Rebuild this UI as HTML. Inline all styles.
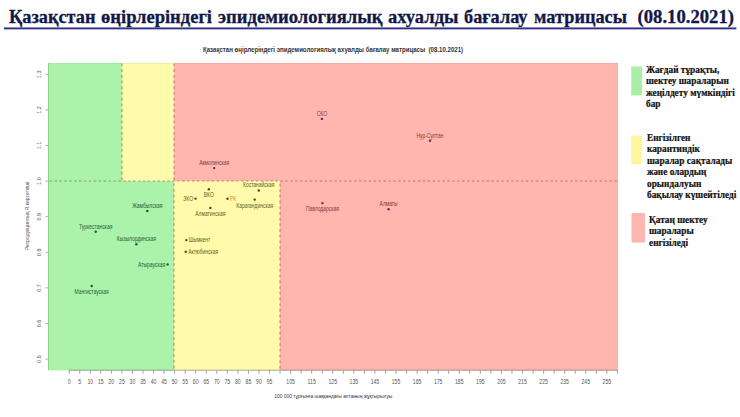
<!DOCTYPE html>
<html><head><meta charset="utf-8">
<style>
html,body{margin:0;padding:0;background:#fff;width:740px;height:417px;overflow:hidden}
svg{display:block}
.t{font-family:"Liberation Serif","DejaVu Serif",serif;font-weight:bold}
.s{font-family:"Liberation Sans","DejaVu Sans",sans-serif}
</style></head><body>
<svg width="740" height="417" viewBox="0 0 740 417">
<!-- main title -->
<g class="t" font-size="18.3" fill="#131848" stroke="#131848" stroke-width="0.3"><text x="9.00" y="22.6" textLength="86.51" lengthAdjust="spacingAndGlyphs">Қазақстан</text><text x="101.00" y="22.6" textLength="111.01" lengthAdjust="spacingAndGlyphs">өңірлеріндегі</text><text x="218.00" y="22.6" textLength="164.50" lengthAdjust="spacingAndGlyphs">эпидемиологиялық</text><text x="387.99" y="22.6" textLength="70.51" lengthAdjust="spacingAndGlyphs">ахуалды</text><text x="464.00" y="22.6" textLength="63.51" lengthAdjust="spacingAndGlyphs">бағалау</text><text x="534.00" y="22.6" textLength="93.01" lengthAdjust="spacingAndGlyphs">матрицасы</text><text x="637.49" y="22.6" textLength="96.52" lengthAdjust="spacingAndGlyphs">(08.10.2021)</text></g>
<rect x="4" y="27.45" width="732.4" height="1.9" fill="#2e2f82"/>

<!-- chart title -->
<text class="s" x="333" y="51.8" font-size="6.1" font-weight="bold" fill="#333" text-anchor="middle" xml:space="preserve" transform="matrix(1,0,0,1.25,0,-12.950)">Қазақстан өңірлеріндегі эпидемиологиялық ахуалды бағалау матрицасы  (08.10.2021)</text>

<!-- regions -->
<rect x="48" y="63" width="74" height="118" fill="#abf2ab"/>
<rect x="122" y="63" width="52" height="118" fill="#fffbab"/>
<rect x="174" y="63" width="444" height="118" fill="#ffb6ae"/>
<rect x="48" y="181" width="126" height="189.4" fill="#abf2ab"/>
<rect x="174" y="181" width="106" height="189.4" fill="#fffbab"/>
<rect x="280" y="181" width="338" height="189.4" fill="#ffb6ae"/>

<!-- dashed lines -->
<g stroke="#8f3a28" stroke-opacity="0.5" stroke-width="1.2" fill="none">
<line x1="48" y1="181" x2="618" y2="181" stroke-dasharray="2.456 2.455" stroke-dashoffset="3.36"/>
<line x1="122" y1="63" x2="122" y2="181" stroke-dasharray="2.85 2.85" stroke-dashoffset="5.2"/>
<line x1="174" y1="63" x2="174" y2="370" stroke-dasharray="2.85 2.85" stroke-dashoffset="5.2"/>
<line x1="280" y1="181" x2="280" y2="370" stroke-dasharray="2.85 2.85" stroke-dashoffset="3.25"/>
</g>

<!-- axes -->
<path d="M48 63.4H617.6V370" fill="none" stroke="#666" stroke-opacity="0.12" stroke-width="0.8"/>
<line x1="48.5" y1="63" x2="48.5" y2="370" stroke="#8fcf8f" stroke-width="1"/>
<g stroke="#999" stroke-width="0.8">
<line x1="45.5" y1="74.3" x2="48" y2="74.3"/>
<line x1="45.5" y1="109.9" x2="48" y2="109.9"/>
<line x1="45.5" y1="145.5" x2="48" y2="145.5"/>
<line x1="45.5" y1="181.1" x2="48" y2="181.1"/>
<line x1="45.5" y1="216.7" x2="48" y2="216.7"/>
<line x1="45.5" y1="252.3" x2="48" y2="252.3"/>
<line x1="45.5" y1="287.9" x2="48" y2="287.9"/>
<line x1="45.5" y1="323.5" x2="48" y2="323.5"/>
<line x1="45.5" y1="359.1" x2="48" y2="359.1"/>
</g>
<g class="s" font-size="5.5" fill="#555" text-anchor="middle">
<text transform="translate(40.6,74.3) rotate(-90)">1.3</text>
<text transform="translate(40.6,109.9) rotate(-90)">1.2</text>
<text transform="translate(40.6,145.5) rotate(-90)">1.1</text>
<text transform="translate(40.6,181.1) rotate(-90)">1.0</text>
<text transform="translate(40.6,216.7) rotate(-90)">0.9</text>
<text transform="translate(40.6,252.3) rotate(-90)">0.8</text>
<text transform="translate(40.6,287.9) rotate(-90)">0.7</text>
<text transform="translate(40.6,323.5) rotate(-90)">0.6</text>
<text transform="translate(40.6,359.1) rotate(-90)">0.5</text>
<text transform="translate(29.4,216) rotate(-90)" font-size="5">Репродукциялық R көрсеткіші</text>
</g>
<!--GEN-->
<line x1="69.2" y1="370.2" x2="617.4" y2="370.2" stroke="#555" stroke-opacity="0.5" stroke-width="1"/>
<g stroke="#888" stroke-width="0.75"><line x1="69.20" y1="370.2" x2="69.20" y2="373.8"/><line x1="79.74" y1="370.2" x2="79.74" y2="373.8"/><line x1="90.28" y1="370.2" x2="90.28" y2="373.8"/><line x1="100.83" y1="370.2" x2="100.83" y2="373.8"/><line x1="111.37" y1="370.2" x2="111.37" y2="373.8"/><line x1="121.91" y1="370.2" x2="121.91" y2="373.8"/><line x1="132.45" y1="370.2" x2="132.45" y2="373.8"/><line x1="143.00" y1="370.2" x2="143.00" y2="373.8"/><line x1="153.54" y1="370.2" x2="153.54" y2="373.8"/><line x1="164.08" y1="370.2" x2="164.08" y2="373.8"/><line x1="174.62" y1="370.2" x2="174.62" y2="373.8"/><line x1="185.17" y1="370.2" x2="185.17" y2="373.8"/><line x1="195.71" y1="370.2" x2="195.71" y2="373.8"/><line x1="206.25" y1="370.2" x2="206.25" y2="373.8"/><line x1="216.80" y1="370.2" x2="216.80" y2="373.8"/><line x1="227.34" y1="370.2" x2="227.34" y2="373.8"/><line x1="237.88" y1="370.2" x2="237.88" y2="373.8"/><line x1="248.42" y1="370.2" x2="248.42" y2="373.8"/><line x1="258.96" y1="370.2" x2="258.96" y2="373.8"/><line x1="269.51" y1="370.2" x2="269.51" y2="373.8"/><line x1="280.05" y1="370.2" x2="280.05" y2="373.8"/><line x1="290.59" y1="370.2" x2="290.59" y2="373.8"/><line x1="301.13" y1="370.2" x2="301.13" y2="373.8"/><line x1="311.68" y1="370.2" x2="311.68" y2="373.8"/><line x1="322.22" y1="370.2" x2="322.22" y2="373.8"/><line x1="332.76" y1="370.2" x2="332.76" y2="373.8"/><line x1="343.30" y1="370.2" x2="343.30" y2="373.8"/><line x1="353.85" y1="370.2" x2="353.85" y2="373.8"/><line x1="364.39" y1="370.2" x2="364.39" y2="373.8"/><line x1="374.93" y1="370.2" x2="374.93" y2="373.8"/><line x1="385.47" y1="370.2" x2="385.47" y2="373.8"/><line x1="396.02" y1="370.2" x2="396.02" y2="373.8"/><line x1="406.56" y1="370.2" x2="406.56" y2="373.8"/><line x1="417.10" y1="370.2" x2="417.10" y2="373.8"/><line x1="427.64" y1="370.2" x2="427.64" y2="373.8"/><line x1="438.19" y1="370.2" x2="438.19" y2="373.8"/><line x1="448.73" y1="370.2" x2="448.73" y2="373.8"/><line x1="459.27" y1="370.2" x2="459.27" y2="373.8"/><line x1="469.81" y1="370.2" x2="469.81" y2="373.8"/><line x1="480.36" y1="370.2" x2="480.36" y2="373.8"/><line x1="490.90" y1="370.2" x2="490.90" y2="373.8"/><line x1="501.44" y1="370.2" x2="501.44" y2="373.8"/><line x1="511.98" y1="370.2" x2="511.98" y2="373.8"/><line x1="522.53" y1="370.2" x2="522.53" y2="373.8"/><line x1="533.07" y1="370.2" x2="533.07" y2="373.8"/><line x1="543.61" y1="370.2" x2="543.61" y2="373.8"/><line x1="554.15" y1="370.2" x2="554.15" y2="373.8"/><line x1="564.70" y1="370.2" x2="564.70" y2="373.8"/><line x1="575.24" y1="370.2" x2="575.24" y2="373.8"/><line x1="585.78" y1="370.2" x2="585.78" y2="373.8"/><line x1="596.33" y1="370.2" x2="596.33" y2="373.8"/><line x1="606.87" y1="370.2" x2="606.87" y2="373.8"/><line x1="617.41" y1="370.2" x2="617.41" y2="373.8"/></g>
<g class="s" font-size="5.1" fill="#555" text-anchor="middle"><text x="69.20" y="383.6" transform="matrix(1,0,0,1.3,0,-115.080)">0</text><text x="79.74" y="383.6" transform="matrix(1,0,0,1.3,0,-115.080)">5</text><text x="90.28" y="383.6" transform="matrix(1,0,0,1.3,0,-115.080)">10</text><text x="100.83" y="383.6" transform="matrix(1,0,0,1.3,0,-115.080)">15</text><text x="111.37" y="383.6" transform="matrix(1,0,0,1.3,0,-115.080)">20</text><text x="121.91" y="383.6" transform="matrix(1,0,0,1.3,0,-115.080)">25</text><text x="132.45" y="383.6" transform="matrix(1,0,0,1.3,0,-115.080)">30</text><text x="143.00" y="383.6" transform="matrix(1,0,0,1.3,0,-115.080)">35</text><text x="153.54" y="383.6" transform="matrix(1,0,0,1.3,0,-115.080)">40</text><text x="164.08" y="383.6" transform="matrix(1,0,0,1.3,0,-115.080)">45</text><text x="174.62" y="383.6" transform="matrix(1,0,0,1.3,0,-115.080)">50</text><text x="185.17" y="383.6" transform="matrix(1,0,0,1.3,0,-115.080)">55</text><text x="195.71" y="383.6" transform="matrix(1,0,0,1.3,0,-115.080)">60</text><text x="206.25" y="383.6" transform="matrix(1,0,0,1.3,0,-115.080)">65</text><text x="216.80" y="383.6" transform="matrix(1,0,0,1.3,0,-115.080)">70</text><text x="227.34" y="383.6" transform="matrix(1,0,0,1.3,0,-115.080)">75</text><text x="237.88" y="383.6" transform="matrix(1,0,0,1.3,0,-115.080)">80</text><text x="248.42" y="383.6" transform="matrix(1,0,0,1.3,0,-115.080)">85</text><text x="258.96" y="383.6" transform="matrix(1,0,0,1.3,0,-115.080)">90</text><text x="269.51" y="383.6" transform="matrix(1,0,0,1.3,0,-115.080)">95</text><text x="290.59" y="383.6" transform="matrix(1,0,0,1.3,0,-115.080)">105</text><text x="311.68" y="383.6" transform="matrix(1,0,0,1.3,0,-115.080)">115</text><text x="332.76" y="383.6" transform="matrix(1,0,0,1.3,0,-115.080)">125</text><text x="353.85" y="383.6" transform="matrix(1,0,0,1.3,0,-115.080)">135</text><text x="374.93" y="383.6" transform="matrix(1,0,0,1.3,0,-115.080)">145</text><text x="396.02" y="383.6" transform="matrix(1,0,0,1.3,0,-115.080)">155</text><text x="417.10" y="383.6" transform="matrix(1,0,0,1.3,0,-115.080)">165</text><text x="438.19" y="383.6" transform="matrix(1,0,0,1.3,0,-115.080)">175</text><text x="459.27" y="383.6" transform="matrix(1,0,0,1.3,0,-115.080)">185</text><text x="480.36" y="383.6" transform="matrix(1,0,0,1.3,0,-115.080)">195</text><text x="501.44" y="383.6" transform="matrix(1,0,0,1.3,0,-115.080)">205</text><text x="522.53" y="383.6" transform="matrix(1,0,0,1.3,0,-115.080)">215</text><text x="543.61" y="383.6" transform="matrix(1,0,0,1.3,0,-115.080)">225</text><text x="564.70" y="383.6" transform="matrix(1,0,0,1.3,0,-115.080)">235</text><text x="585.78" y="383.6" transform="matrix(1,0,0,1.3,0,-115.080)">245</text><text x="606.87" y="383.6" transform="matrix(1,0,0,1.3,0,-115.080)">255</text><text x="333.3" y="397.9" font-size="4.9" fill="#333" transform="matrix(1,0,0,1.2,0,-79.580)">100 000 тұрғынға шаққандағы аптаның жұқтырылуы</text></g>
<g><circle cx="321.9" cy="118.9" r="1.2" fill="#6e2c5e"/><circle cx="430.0" cy="140.8" r="1.2" fill="#6e2c5e"/><circle cx="214.2" cy="168.1" r="1.2" fill="#6e2c5e"/><circle cx="258.8" cy="190.5" r="1.2" fill="#4a4a18"/><circle cx="208.8" cy="189.2" r="1.2" fill="#4a4a18"/><circle cx="195.5" cy="198.6" r="1.2" fill="#4a4a18"/><circle cx="227.5" cy="198.8" r="1.2" fill="#4a4a18"/><circle cx="254.7" cy="199.6" r="1.2" fill="#4a4a18"/><circle cx="322.4" cy="203.1" r="1.2" fill="#6e2c5e"/><circle cx="210.4" cy="207.9" r="1.2" fill="#4a4a18"/><circle cx="388.6" cy="209.3" r="1.2" fill="#6e2c5e"/><circle cx="147.3" cy="211.0" r="1.2" fill="#1d5a2a"/><circle cx="95.7" cy="231.7" r="1.2" fill="#1d5a2a"/><circle cx="186.3" cy="240.1" r="1.2" fill="#4a4a18"/><circle cx="136.4" cy="244.2" r="1.2" fill="#1d5a2a"/><circle cx="185.7" cy="251.7" r="1.2" fill="#4a4a18"/><circle cx="167.6" cy="264.4" r="1.2" fill="#1d5a2a"/><circle cx="91.7" cy="286.0" r="1.2" fill="#1d5a2a"/></g>
<g class="s" font-size="4.95"><text x="321.9" y="115.80" text-anchor="middle" fill="#7a3c40" transform="matrix(1,0,0,1.35,0,-40.530)">СКО</text><text x="430.0" y="137.70" text-anchor="middle" fill="#7a3c40" transform="matrix(1,0,0,1.35,0,-48.195)">Нур-Султан</text><text x="214.2" y="165.00" text-anchor="middle" fill="#7a3c40" transform="matrix(1,0,0,1.35,0,-57.750)">Акмолинская</text><text x="258.8" y="187.40" text-anchor="middle" fill="#5e5e26" transform="matrix(1,0,0,1.35,0,-65.590)">Костанайская</text><text x="208.8" y="197.20" text-anchor="middle" fill="#5e5e26" transform="matrix(1,0,0,1.35,0,-69.020)">ВКО</text><text x="193.0" y="200.80" text-anchor="end" fill="#5e5e26" transform="matrix(1,0,0,1.35,0,-70.280)">ЗКО</text><text x="230.0" y="201.00" fill="#e88030" transform="matrix(1,0,0,1.35,0,-70.350)">РК</text><text x="254.7" y="207.60" text-anchor="middle" fill="#5e5e26" transform="matrix(1,0,0,1.35,0,-72.660)">Карагандинская</text><text x="322.4" y="211.10" text-anchor="middle" fill="#7a3c40" transform="matrix(1,0,0,1.35,0,-73.885)">Павлодарская</text><text x="210.4" y="215.90" text-anchor="middle" fill="#5e5e26" transform="matrix(1,0,0,1.35,0,-75.565)">Алматинская</text><text x="388.6" y="206.20" text-anchor="middle" fill="#7a3c40" transform="matrix(1,0,0,1.35,0,-72.170)">Алматы</text><text x="147.3" y="207.90" text-anchor="middle" fill="#2a5e34" transform="matrix(1,0,0,1.35,0,-72.765)">Жамбылская</text><text x="95.7" y="228.60" text-anchor="middle" fill="#2a5e34" transform="matrix(1,0,0,1.35,0,-80.010)">Туркестанская</text><text x="188.8" y="242.30" fill="#5e5e26" transform="matrix(1,0,0,1.35,0,-84.805)">Шымкент</text><text x="136.4" y="241.10" text-anchor="middle" fill="#2a5e34" transform="matrix(1,0,0,1.35,0,-84.385)">Кызылординская</text><text x="188.2" y="253.90" fill="#5e5e26" transform="matrix(1,0,0,1.35,0,-88.865)">Актюбинская</text><text x="165.1" y="266.60" text-anchor="end" fill="#2a5e34" transform="matrix(1,0,0,1.35,0,-93.310)">Атырауская</text><text x="91.7" y="294.00" text-anchor="middle" fill="#2a5e34" transform="matrix(1,0,0,1.35,0,-102.900)">Мангистауская</text></g>
<!--/GEN-->

<!-- legend -->
<rect x="631.2" y="66.4" width="10.9" height="29" fill="#a8f0a6"/>
<rect x="631.2" y="135.6" width="10.6" height="28.6" fill="#fff69c"/>
<rect x="631.5" y="213" width="13.5" height="29.5" fill="#ffb6ae"/>
<g class="t" font-size="9.3" fill="#111" stroke="#111" stroke-width="0.2" transform="translate(0,-0.4)">
<text x="646" y="73">Жағдай тұрақты,</text>
<text x="646" y="84.6">шектеу шараларын</text>
<text x="646" y="96.2">жеңілдету мүмкіндігі</text>
<text x="646" y="107.8">бар</text>
<text x="647" y="141">Енгізілген</text>
<text x="647" y="152.5">карантиндік</text>
<text x="647" y="164">шаралар сақталады</text>
<text x="647" y="175.5">және олардың</text>
<text x="647" y="187">орындалуын</text>
<text x="647" y="198.5">бақылау күшейтіледі</text>
<text x="649" y="223">Қатаң шектеу</text>
<text x="649" y="234.6">шаралары</text>
<text x="649" y="246.2">енгізіледі</text>
</g>
</svg>
</body></html>
